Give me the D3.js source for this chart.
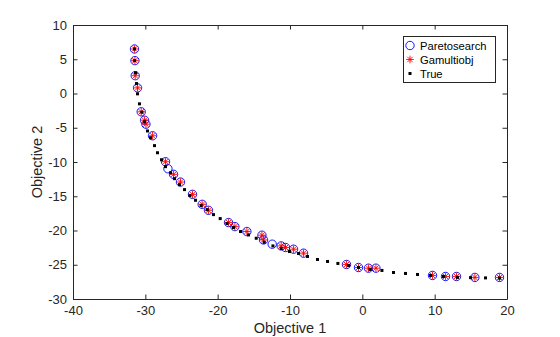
<!DOCTYPE html>
<html><head><meta charset="utf-8">
<script src="https://cdn.jsdelivr.net/npm/d3@7"></script>
<style>
html,body{margin:0;padding:0;background:#fff;}
svg{display:block;font-family:"Liberation Sans",Arial,Helvetica,sans-serif;}
</style></head>
<body>
<svg id="chart" width="560" height="337"></svg>
<script>
// Paretosearch points (Objective 1, Objective 2)
const paretoX = [-31.50,-31.44,-31.40,-31.08,-30.57,-30.11,-29.92,-29.00,-27.21,-26.88,-26.10,-25.14,-23.48,-22.14,-21.27,-18.50,-17.62,-15.96,-13.88,-13.66,-12.46,-11.22,-10.62,-9.51,-8.13,-2.19,-0.53,0.85,1.88,9.70,11.50,13.02,15.56,18.96];
const paretoY = [6.50,4.80,2.60,0.82,-2.67,-3.90,-4.48,-6.17,-9.96,-10.98,-11.80,-12.93,-14.72,-16.18,-17.05,-18.84,-19.43,-20.15,-20.69,-21.38,-22.00,-22.25,-22.48,-22.73,-23.31,-24.96,-25.40,-25.50,-25.50,-26.56,-26.71,-26.71,-26.85,-26.85];
// Gamultiobj points
const gaX = [-31.50,-31.44,-31.40,-31.08,-30.57,-30.11,-29.92,-29.00,-27.21,-26.10,-25.14,-23.48,-22.14,-21.27,-18.50,-17.62,-15.96,-13.88,-13.66,-11.22,-10.62,-9.51,-8.13,-2.19,-0.53,0.85,1.88,9.70,11.50,13.02,15.56,18.96];
const gaY = [6.50,4.80,2.60,0.82,-2.67,-3.90,-4.48,-6.17,-9.96,-11.80,-12.93,-14.72,-16.18,-17.05,-18.84,-19.43,-20.15,-20.69,-21.38,-22.25,-22.48,-22.73,-23.31,-24.96,-25.40,-25.50,-25.50,-26.56,-26.71,-26.71,-26.85,-26.85];
// True Pareto front
const trueX = [-31.50,-31.50,-31.36,-31.22,-31.08,-30.81,-30.47,-30.11,-29.70,-29.29,-28.73,-28.32,-27.76,-27.21,-26.52,-25.97,-25.28,-24.58,-23.84,-23.06,-22.28,-21.45,-20.58,-19.65,-18.72,-17.81,-16.84,-15.74,-14.67,-13.57,-12.36,-11.22,-10.07,-8.82,-7.58,-6.20,-4.81,-3.38,-1.91,-0.53,1.09,2.71,4.31,5.97,7.63,9.43,11.22,13.16,14.96,17.03,18.97];
const trueY = [6.50,4.80,3.01,1.45,-0.05,-1.51,-2.73,-4.13,-5.47,-6.46,-7.61,-8.65,-9.67,-10.68,-11.56,-12.43,-13.31,-14.03,-14.91,-15.59,-16.37,-16.95,-17.68,-18.26,-18.99,-19.57,-20.15,-20.65,-21.13,-21.71,-22.25,-22.63,-23.07,-23.36,-23.79,-24.23,-24.52,-24.81,-25.11,-25.40,-25.69,-25.83,-26.13,-26.27,-26.42,-26.56,-26.71,-26.85,-26.88,-26.92,-26.95];
const xTicks = [-40,-30,-20,-10,0,10,20];
const yTicks = [-30,-25,-20,-15,-10,-5,0,5,10];
const seriesNames = ["Paretosearch","Gamultiobj","True"];
const xLabel = "Objective 1", yLabel = "Objective 2";

const svg = d3.select("#chart");
const L = 73, R = 507, T = 25, B = 299;
const x = d3.scaleLinear().domain([-40,20]).range([L,R]);
const y = d3.scaleLinear().domain([-30,10]).range([B,T]);
const axisColor = "#262626";
const tk = 4.5;

function styleAxis(g){
  g.selectAll("path.domain").attr("stroke",axisColor).attr("stroke-width",1);
  g.selectAll(".tick line").attr("stroke",axisColor);
  g.selectAll(".tick text").attr("fill",axisColor).style("font-size","13px").style("font-family",'"Liberation Sans",Arial,sans-serif');
}
svg.append("g").attr("transform",`translate(0,${B})`)
  .call(d3.axisBottom(x).tickValues(xTicks).tickSizeInner(-tk).tickSizeOuter(0).tickPadding(7).tickFormat(d3.format("d")))
  .call(styleAxis);
svg.append("g").attr("transform",`translate(0,${T})`)
  .call(d3.axisTop(x).tickValues(xTicks).tickSizeInner(-tk).tickSizeOuter(0).tickFormat(""))
  .call(styleAxis);
svg.append("g").attr("transform",`translate(${L},0)`)
  .call(d3.axisLeft(y).tickValues(yTicks).tickSizeInner(-tk).tickSizeOuter(0).tickPadding(6).tickFormat(d3.format("d")))
  .call(styleAxis);
svg.append("g").attr("transform",`translate(${R},0)`)
  .call(d3.axisRight(y).tickValues(yTicks).tickSizeInner(-tk).tickSizeOuter(0).tickFormat(""))
  .call(styleAxis);
svg.selectAll(".tick text").text(function(){return d3.select(this).text().replace("−","-");});

// Paretosearch circles
svg.append("g").selectAll("circle").data(paretoX.map((d,i)=>[d,paretoY[i]])).join("circle")
  .attr("cx",d=>x(d[0])).attr("cy",d=>y(d[1])).attr("r",4.2).attr("fill","none").attr("stroke","#0000ff").attr("stroke-width",0.9);
// Gamultiobj asterisks
const starR = 3.8;
function starPath(cx,cy,r){
  const d = r*0.7071;
  return `M${cx-r},${cy}L${cx+r},${cy}M${cx},${cy-r}L${cx},${cy+r}M${cx-d},${cy-d}L${cx+d},${cy+d}M${cx-d},${cy+d}L${cx+d},${cy-d}`;
}
svg.append("g").selectAll("path").data(gaX.map((d,i)=>[d,gaY[i]])).join("path")
  .attr("d",d=>starPath(x(d[0]),y(d[1]),starR)).attr("fill","none").attr("stroke","#ff0000").attr("stroke-width",0.9);
// True front (drawn on top)
svg.append("g").selectAll("rect").data(trueX.map((d,i)=>[d,trueY[i]])).join("rect")
  .attr("x",d=>x(d[0])-1.5).attr("y",d=>y(d[1])-1.5).attr("width",3).attr("height",3).attr("fill","#000");

// Axis labels
svg.append("text").attr("x",(L+R)/2).attr("y",333).attr("text-anchor","middle")
  .style("font-size","14.5px").attr("fill",axisColor).text(xLabel);
svg.append("text").attr("transform",`translate(42,${(T+B)/2}) rotate(-90)`).attr("text-anchor","middle")
  .style("font-size","14.5px").attr("fill",axisColor).text(yLabel);

// Legend
const lg = svg.append("g").attr("transform","translate(403,36)");
lg.append("rect").attr("x",0.5).attr("y",0.5).attr("width",92).attr("height",46).attr("fill","#fff").attr("stroke",axisColor).attr("stroke-width",1);
const rows = [9.5,23.5,37.5];
lg.append("circle").attr("cx",7).attr("cy",rows[0]).attr("r",4.2).attr("fill","none").attr("stroke","#0000ff").attr("stroke-width",0.9);
lg.append("path").attr("d",starPath(7,rows[1],starR)).attr("fill","none").attr("stroke","#ff0000").attr("stroke-width",0.9);
lg.append("rect").attr("x",7-1.5).attr("y",rows[2]-1.5).attr("width",3).attr("height",3).attr("fill","#000");
seriesNames.forEach((s,i)=>{
  lg.append("text").attr("x",17).attr("y",rows[i]).attr("dy","0.36em").style("font-size","11.2px").attr("fill","#000").text(s);
});
</script>
</body></html>
